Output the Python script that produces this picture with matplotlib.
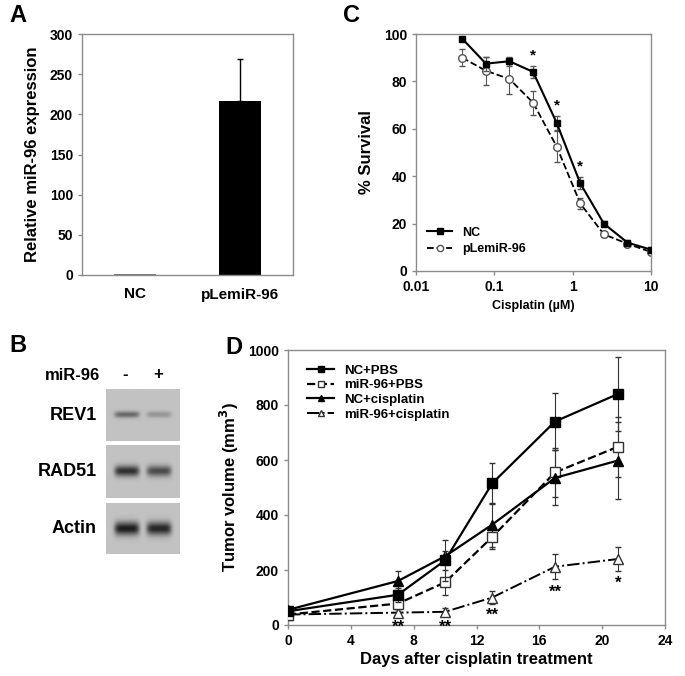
import numpy as np
import matplotlib
matplotlib.use("Agg")
import matplotlib.pyplot as plt
from matplotlib.lines import Line2D

plt.rcParams['font.family'] = ['Liberation Sans', 'DejaVu Sans']
plt.rcParams['font.weight'] = 'bold'
plt.rcParams['axes.labelweight'] = 'bold'

# ---- panel A data
a_groups = ['NC', 'pLemiR-96']
a_vals = [1, 217]
a_err = [0, 52]

# ---- panel C data
c_dose = [0.039, 0.078, 0.156, 0.3125, 0.625, 1.25, 2.5, 5, 10]
c_nc = [98, 87.5, 88.5, 84, 62.5, 37, 20, 12, 9]
c_nc_err = [0.5, 3, 2, 2.5, 3, 2.5, 1, 1, 1]
c_mir = [90, 84.5, 81, 71, 52.5, 28.5, 15.5, 11.5, 8]
c_mir_err = [3.5, 6, 6.5, 5, 6.5, 2.5, 1, 1, 1]
c_star_dose = [0.3125, 0.625, 1.25]

# ---- panel B data (relative band darkness, lane - / lane +)
b_proteins = ['REV1', 'RAD51', 'Actin']
b_band = [[0.5, 0.25], [0.8, 0.65], [0.9, 0.85]]
b_band_h = [0.06, 0.1, 0.13]

# ---- panel D data
d_days = [0, 7, 10, 13, 17, 21]
d_nc_pbs = [50, 110, 235, 515, 740, 840]
d_nc_pbs_err = [10, 25, 75, 75, 105, 135]
d_mir_pbs = [38, 78, 155, 320, 555, 648]
d_mir_pbs_err = [8, 20, 45, 45, 90, 110]
d_nc_cis = [55, 160, 250, 365, 535, 598]
d_nc_cis_err = [10, 35, 20, 80, 100, 140]
d_mir_cis = [38, 45, 48, 100, 212, 240]
d_mir_cis_err = [5, 12, 15, 25, 45, 45]
d_stars = ['**', '**', '**', '**', '*']
d_star_days = [7, 10, 13, 17, 21]
d_star_y = [12, 12, 55, 139, 172]

W, H = 685, 676
fig = plt.figure(figsize=(W / 100, H / 100), dpi=100)

def ax_px(l, t, r, b):
    return fig.add_axes([l / W, 1 - b / H, (r - l) / W, (b - t) / H])

spine_col = '#8c8c8c'
def style(ax):
    for s in ax.spines.values():
        s.set_color(spine_col)
        s.set_linewidth(1)
    ax.tick_params(direction='out', length=3, color=spine_col, labelsize=10, width=1)
    for lab in ax.get_xticklabels() + ax.get_yticklabels():
        lab.set_fontweight('bold')

# ================= A
axA = ax_px(82, 34, 293, 275)
axA.bar([0, 1], a_vals, width=0.4, color='black')
axA.bar([0], [a_vals[0]], width=0.4, color='#777777')
axA.errorbar([1], [a_vals[1]], yerr=[[0], [a_err[1]]], fmt='none', ecolor='black',
             elinewidth=1, capsize=2.5)
axA.set_xlim(-0.5, 1.5)
axA.set_ylim(0, 300)
axA.set_yticks(range(0, 301, 50))
axA.set_xticks([0, 1])
axA.set_xticklabels(a_groups)
axA.set_ylabel('Relative miR-96 expression', fontsize=12, labelpad=7)
style(axA)
axA.tick_params(axis='x', length=0, pad=9, labelsize=11)

# ================= C
axC = ax_px(416, 34, 651, 271)
axC.errorbar(c_dose, c_mir, yerr=c_mir_err, fmt='--o', color='black', mfc='white',
             mec='#555555', ms=5.5, lw=1.3, elinewidth=0.8, ecolor='#555555', capsize=2,
             zorder=2)
axC.errorbar(c_dose, c_nc, yerr=c_nc_err, fmt='-s', color='black', ms=5, lw=1.5,
             elinewidth=0.8, ecolor='#555555', capsize=2, zorder=3)
for d in c_star_dose:
    i = c_dose.index(d)
    axC.text(d, c_nc[i] + c_nc_err[i] + 1.5, '*', ha='center', va='bottom', fontsize=11)
axC.set_xscale('log')
axC.set_xlim(0.01, 10)
axC.set_ylim(0, 100)
axC.set_xticks([0.01, 0.1, 1, 10])
axC.set_xticklabels(['0.01', '0.1', '1', '10'])
axC.minorticks_off()
axC.set_yticks(range(0, 101, 20))
axC.set_ylabel('% Survival', fontsize=12, labelpad=7)
axC.set_xlabel('Cisplatin (µM)', fontsize=9, labelpad=4)
c_handles = [Line2D([], [], color='black', ls='-', marker='s', ms=4.5, lw=1.5),
             Line2D([], [], color='black', ls='--', marker='o', mfc='white', mec='#555555',
                    ms=4.5, lw=1.3)]
axC.legend(c_handles, ['NC', 'pLemiR-96'], loc='lower left', bbox_to_anchor=(0.0, 0.02),
           frameon=False, handlelength=2.0, labelspacing=0.35,
           prop={'weight': 'bold', 'size': 9})
style(axC)

# ================= B (western blot)
lanes_x = np.linspace(0, 1, 80)
panel_px = [(389, 441), (445, 498), (503, 554)]
for k, prot in enumerate(b_proteins):
    t, b = panel_px[k]
    ax = ax_px(106, t, 180, b)
    yy = np.linspace(0, 1, 60)[:, None]
    img = np.full((60, 80), 0.76)
    for j, cx in enumerate([0.28, 0.72]):
        prof_x = np.exp(-((lanes_x - cx) / 0.17) ** 6)
        prof_y = np.exp(-((yy - 0.5) / b_band_h[k]) ** 2)
        img = img - b_band[k][j] * 0.72 * prof_y * prof_x[None, :]
    ax.imshow(img, cmap='gray', vmin=0, vmax=1, aspect='auto', interpolation='bilinear')
    ax.set_xticks([])
    ax.set_yticks([])
    for s in ax.spines.values():
        s.set_visible(False)
    fig.text(97 / W, 1 - (t + b) / 2 / H, prot, ha='right', va='center', fontsize=13,
             fontweight='bold')
fig.text(100 / W, 1 - 375 / H, 'miR-96', ha='right', va='center', fontsize=12, fontweight='bold')
fig.text(125 / W, 1 - 375 / H, '-', ha='center', va='center', fontsize=12, fontweight='bold')
fig.text(158 / W, 1 - 375 / H, '+', ha='center', va='center', fontsize=12, fontweight='bold')

# ================= D
axD = ax_px(288, 350, 665, 625)
ekw = dict(elinewidth=0.8, ecolor='#333333', capsize=2.5)
axD.errorbar(d_days, d_nc_pbs, yerr=d_nc_pbs_err, fmt='-s', color='black', ms=6.5, lw=1.6,
             zorder=4, **ekw)
axD.errorbar(d_days, d_mir_pbs, yerr=d_mir_pbs_err, fmt='--s', color='black', mfc='white',
             mec='#333333', ms=6.5, lw=1.6, zorder=3, **ekw)
axD.errorbar(d_days, d_nc_cis, yerr=d_nc_cis_err, fmt='-^', color='black', ms=6.5, lw=1.6,
             zorder=3, **ekw)
axD.errorbar(d_days, d_mir_cis, yerr=d_mir_cis_err, fmt='-.^', color='black', mfc='white',
             mec='#333333', ms=6.5, lw=1.4, zorder=2, **ekw)
for dd, yv, s in zip(d_star_days, d_star_y, d_stars):
    axD.text(dd, yv - 36, s, ha='center', va='baseline', fontsize=12)
axD.set_xlim(0, 24)
axD.set_ylim(0, 1000)
axD.set_xticks(range(0, 25, 4))
axD.set_yticks(range(0, 1001, 200))
axD.set_xlabel('Days after cisplatin treatment', fontsize=12, labelpad=3)
axD.set_ylabel('Tumor volume (mm$^\\mathbf{3}$)', fontsize=12, labelpad=5)
d_handles = [Line2D([], [], color='black', ls='-', marker='s', ms=5, lw=1.6),
             Line2D([], [], color='black', ls='--', marker='s', mfc='white', mec='#333333',
                    ms=5, lw=1.6),
             Line2D([], [], color='black', ls='-', marker='^', ms=5, lw=1.6),
             Line2D([], [], color='black', ls='-.', marker='^', mfc='white', mec='#333333',
                    ms=5, lw=1.4)]
axD.legend(d_handles, ['NC+PBS', 'miR-96+PBS', 'NC+cisplatin', 'miR-96+cisplatin'],
           loc='upper left', bbox_to_anchor=(0.02, 0.99), frameon=False,
           prop={'weight': 'bold', 'size': 9.5}, handlelength=2.0, labelspacing=0.18)
style(axD)

# panel letters
for letter, x, y in [('A', 18, 16), ('C', 352, 16), ('B', 18, 345), ('D', 234, 347)]:
    fig.text(x / W, 1 - y / H, letter, ha='center', va='center', fontsize=17, fontweight='bold')

fig.savefig('out.png', dpi=100)
